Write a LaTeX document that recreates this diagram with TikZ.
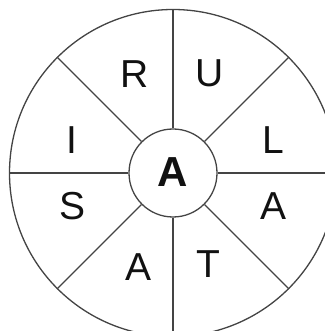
\documentclass[tikz,border=0pt]{standalone}
\usepackage{fontspec}
\setmainfont{Liberation Sans}
\usetikzlibrary{positioning}
\definecolor{Ink}{HTML}{111111}
\definecolor{Rule}{HTML}{444444}

\begin{document}
\begin{tikzpicture}[x=1pt,y=1pt,
  every node/.style={font=\fontsize{39}{39}\selectfont,text=Ink},
  rim/.style={draw=Rule,line width=1.3pt}]
\useasboundingbox (-173,-158) rectangle (151,173);
\fill[white] (-173,-158) rectangle (151,173);
\node[circle,rim,minimum size=327pt,inner sep=0pt] (wheel) at (0,0) {};
\node[circle,rim,minimum size=88pt,inner sep=0pt,font=\fontsize{42}{42}\selectfont\bfseries] (hub) at (0,0) {\raisebox{2pt}{A}};
\foreach \a in {0,45,...,315} {
 \draw[rim] (hub.\a)--(wheel.\a);
}
\foreach \l/\a/\r [count=\i] in {R/111/106,U/70/106,L/18/106,A/-18/106,T/-69/98,A/-110/100,S/-162/106,I/162/106} {
 \node (l\i) at (\a:\r) {\l};
}
\end{tikzpicture}
\end{document}
